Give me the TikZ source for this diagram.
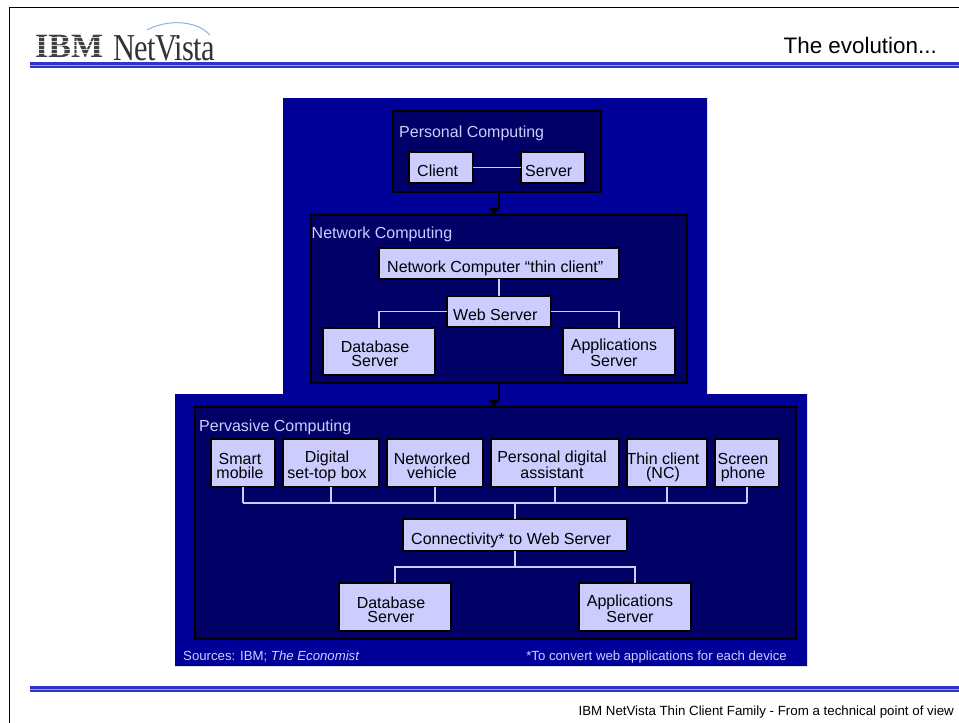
\documentclass[tikz,border=0pt]{standalone}
\usepackage{fontspec}
\usetikzlibrary{calc}
\setmainfont{Liberation Sans}
\newfontfamily\serifA{Liberation Serif}
\definecolor{bgblue}{HTML}{000099}
\definecolor{panel}{HTML}{000066}
\definecolor{pale}{HTML}{CCCCFF}
\definecolor{rulec}{HTML}{3333CC}
\definecolor{rulel}{HTML}{9999EE}
\definecolor{arcc}{HTML}{8FB0D8}
\tikzset{
  x=1pt,y=-1pt,
  panelbox/.style={draw=black,line width=1.2pt,fill=panel,inner sep=0pt,outer sep=0pt},
  itembox/.style={draw=black,line width=1.2pt,fill=pale,inner sep=0pt,outer sep=0pt},
  wire/.style={draw=pale,line width=1.3pt},
  flow/.style={draw=black,line width=1.6pt},
  head/.style={fill=black,draw=none},
  ptext/.style={text=pale,anchor=base west,inner sep=0pt,font=\fontsize{16}{14}\selectfont},
  btext/.style={text=black,anchor=base west,inner sep=0pt,font=\fontsize{16}{14}\selectfont},
  ctext/.style={text=black,anchor=base,inner sep=0pt,align=center,font=\fontsize{16}{14}\selectfont},
  note/.style={text=pale,inner sep=0pt,font=\fontsize{13.2}{15}\selectfont},
}
\newcommand{\rectnode}[6]{%
  \pgfmathsetmacro{\rcx}{(#3+#5)/2}\pgfmathsetmacro{\rcy}{(#4+#6)/2}%
  \pgfmathsetmacro{\rw}{#5-#3}\pgfmathsetmacro{\rh}{#6-#4}%
  \node[#1,minimum width=\rw pt,minimum height=\rh pt] (#2) at (\rcx,\rcy) {};}
\begin{document}
\begin{tikzpicture}
\useasboundingbox (0,0) rectangle (959,723);
\fill[white] (0,0) rectangle (959,723);
% frame
\draw[black,line width=1.3pt] (9.5,723) -- (9.5,7.5) -- (959,7.5);
% rules
\fill[rulec] (30,62) rectangle (959,64.5);
\fill[rulel] (30,64.5) rectangle (959,65.5);
\fill[rulec] (30,65.5) rectangle (959,67.5);
\fill[rulec] (30,686) rectangle (959,688.5);
\fill[rulel] (30,688.5) rectangle (959,689.5);
\fill[rulec] (30,689.5) rectangle (959,691.5);
% logo
\node[anchor=base west,inner sep=0pt,text=black!75] (ibm) at (35,57) {\serifA\bfseries\fontsize{34}{34}\selectfont IBM};
\foreach \yy in {37,41,45,49,53} \fill[white,opacity=.75] (34,\yy) rectangle (103,\yy+1.2);
\node[anchor=base west,inner sep=0pt,text=black!80] (nv) at (113,60) {\scalebox{.8}[1]{\serifA\fontsize{38}{38}\selectfont\addfontfeatures{LetterSpace=-2}NetVista}};
\draw[arcc,line width=1pt] (147,30) .. controls (165,20) and (195,19) .. (210,35);
\node[anchor=base east,inner sep=0pt] (title) at (937,53) {\fontsize{22.4}{24}\selectfont The evolution...};
% background
\fill[bgblue] (283,98) -- (707,98) -- (707,394) -- (807,394) -- (807,666) -- (175,666) -- (175,394) -- (283,394) -- cycle;
% panels
\rectnode{panelbox}{personal}{393}{111}{601}{192}
\rectnode{panelbox}{network}{311}{215}{687}{383}
\rectnode{panelbox}{pervasive}{195}{407}{796}{639}
% flows
\draw[flow] ($(personal.south)+(2,0)$) -- ++(0,17);
\path[head] ($(network.north)+(-10,-7)$) -- ++(10,0) -- ($(network.north)+(-5,0)$) -- cycle;
\draw[flow] ($(network.south)+(0,0)$) -- ++(0,17);
\path[head] ($(pervasive.north -| network.south)+(-10,-7)$) -- ++(10,0) -- ($(pervasive.north -| network.south)+(-5,0)$) -- cycle;
% personal
\rectnode{itembox}{client}{409}{152}{473}{183}
\rectnode{itembox}{server}{521}{152}{585}{183}
\draw[wire] (client.east) -- (server.west);
\node[ptext] (tpc) at (399,137) {Personal Computing};
\node[btext] (tcl) at (417,176) {Client};
\node[btext] (tsv) at (525,176) {Server};
% network
\rectnode{itembox}{nc}{379}{248}{619}{279}
\rectnode{itembox}{web}{447}{296}{551}{327}
\rectnode{itembox}{db}{323}{328}{435}{375}
\rectnode{itembox}{app}{563}{328}{675}{375}
\draw[wire] (nc.south) -- (web.north);
\draw[wire] (web.west) -| (db.north);
\draw[wire] (web.east) -| (app.north);
\node[ptext] (tnc) at (311.5,238) {Network Computing};
\node[btext] (tnn) at (387,272) {Network Computer “thin client”};
\node[btext] (twb) at (453,320) {Web Server};
\node[ctext] (tdb) at (375,366) {Database\\Server};
\node[ctext] (tap) at (614,366) {Applications\\Server};
% pervasive
\rectnode{itembox}{smart}{211}{439}{275}{487}
\rectnode{itembox}{stb}{283}{439}{379}{487}
\rectnode{itembox}{veh}{387}{439}{483}{487}
\rectnode{itembox}{pda}{491}{439}{619}{487}
\rectnode{itembox}{thin}{627}{439}{707}{487}
\rectnode{itembox}{phone}{715}{439}{779}{487}
\rectnode{itembox}{conn}{403}{519}{627}{551}
\rectnode{itembox}{dbb}{339}{583}{451}{631}
\rectnode{itembox}{appb}{579}{583}{691}{631}
\coordinate (busl) at (243,503);
\coordinate (busr) at (747,503);
\coordinate (lower) at (515,567);
\draw[wire] (busl) -- (busr);
\draw[wire] (smart.south) -- (smart.south |- busl);
\draw[wire] (stb.south) -- (stb.south |- busl);
\draw[wire] (veh.south) -- (veh.south |- busl);
\draw[wire] (pda.south) -- (pda.south |- busl);
\draw[wire] (thin.south) -- (thin.south |- busl);
\draw[wire] (phone.south) -- (phone.south |- busl);
\draw[wire] (conn.north) -- (conn.north |- busl);
\draw[wire] (conn.south) -- (lower);
\draw[wire] (dbb.north) |- (lower) -| (appb.north);
\node[ptext] (tpv) at (199,431) {Pervasive Computing};
\node[ctext] (t1) at (240,478) {Smart\\mobile};
\node[ctext] (t2) at (327,478) {Digital\\set-top box};
\node[ctext] (t3) at (432,478) {Networked\\vehicle};
\node[ctext] (t4) at (552,478) {Personal digital\\assistant};
\node[ctext] (t5) at (663,478) {Thin client\\(NC)};
\node[ctext] (t6) at (743,478) {Screen\\phone};
\node[btext] (t7) at (411,544) {Connectivity* to Web Server};
\node[ctext] (t8) at (391,622) {Database\\Server};
\node[ctext] (t9) at (630,622) {Applications\\Server};
\node[note,anchor=base west] (src) at (183,660) {Sources: IBM; \textit{The Economist}};
\node[note,anchor=base east] (cnv) at (787,660) {*To convert web applications for each device};
\node[anchor=base east,inner sep=0pt,font=\fontsize{13.3}{15}\selectfont] (foot) at (954,715) {IBM NetVista Thin Client Family - From a technical point of view};
\end{tikzpicture}
\end{document}
